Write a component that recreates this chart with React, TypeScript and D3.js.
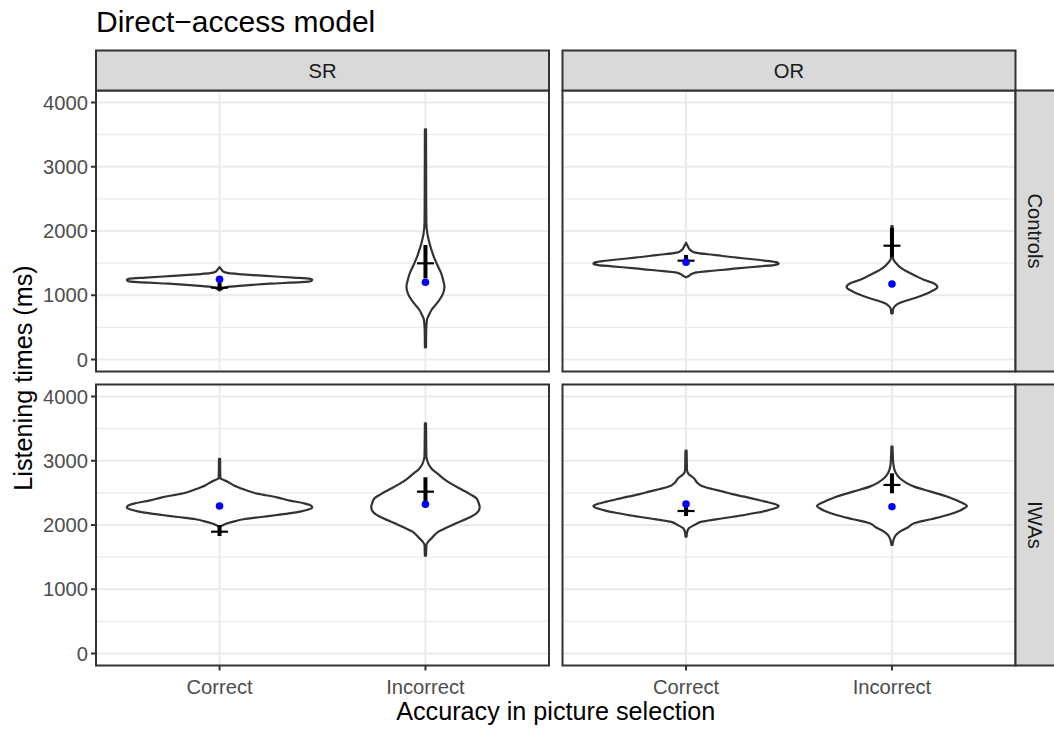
import * as d3 from "d3";

// facets
const cols = ["SR", "OR"];
const rows = ["Controls", "IWAs"];
const accuracy = ["Correct", "Incorrect"];
const yTicks = [0, 1000, 2000, 3000, 4000];
const yMinor = [500, 1500, 2500, 3500];

// violin profiles: [listening time (ms), relative width 0..1]
const srControlsCorrect: [number, number][] = [
  [1074, 0], [1100, 0.03], [1125, 0.07], [1150, 0.25], [1180, 0.55], [1204, 0.88], [1222, 0.99],
  [1240, 1], [1258, 0.97], [1275, 0.8], [1300, 0.5], [1325, 0.25], [1343, 0.1], [1370, 0.04],
  [1400, 0.02], [1437, 0],
];
const srControlsIncorrect: [number, number][] = [
  [190, 0.006], [450, 0.008], [615, 0.016], [700, 0.04], [770, 0.065], [850, 0.11], [926, 0.15],
  [1030, 0.19], [1133, 0.205], [1240, 0.19], [1341, 0.17], [1420, 0.145], [1497, 0.12], [1600, 0.09],
  [1705, 0.065], [1830, 0.04], [1964, 0.02], [2120, 0.01], [2500, 0.008], [3583, 0.006],
];
const orControlsCorrect: [number, number][] = [
  [1279, 0], [1300, 0.03], [1330, 0.06], [1351, 0.1], [1385, 0.32], [1419, 0.55], [1450, 0.8],
  [1470, 0.95], [1490, 1], [1507, 0.99], [1530, 0.9], [1560, 0.72], [1585, 0.55], [1625, 0.32],
  [1663, 0.1], [1700, 0.05], [1760, 0.02], [1818, 0],
];
const orControlsIncorrect: [number, number][] = [
  [719, 0.008], [760, 0.01], [797, 0.015], [840, 0.04], [875, 0.075], [915, 0.15], [953, 0.24],
  [1000, 0.33], [1056, 0.42], [1095, 0.47], [1124, 0.49], [1155, 0.48], [1186, 0.45], [1238, 0.35],
  [1290, 0.27], [1341, 0.2], [1395, 0.13], [1445, 0.08], [1490, 0.05], [1522, 0.03], [1560, 0.015],
  [1600, 0.01], [1800, 0.008], [2078, 0.006],
];
const srIwasCorrect: [number, number][] = [
  [1949, 0], [1974, 0.01], [2000, 0.04], [2027, 0.086], [2060, 0.17], [2089, 0.26], [2125, 0.45],
  [2156, 0.62], [2185, 0.77], [2208, 0.87], [2240, 0.96], [2270, 1], [2300, 0.99], [2338, 0.91],
  [2380, 0.76], [2431, 0.62], [2490, 0.4], [2556, 0.26], [2620, 0.15], [2675, 0.086], [2710, 0.03],
  [2727, 0.01], [2800, 0.008], [3028, 0.006],
];
const srIwasIncorrect: [number, number][] = [
  [1522, 0.006], [1600, 0.008], [1689, 0.01], [1740, 0.03], [1800, 0.07], [1896, 0.14], [1960, 0.23],
  [2027, 0.33], [2100, 0.45], [2182, 0.55], [2240, 0.58], [2286, 0.585], [2340, 0.575], [2416, 0.55],
  [2480, 0.48], [2545, 0.4], [2640, 0.28], [2727, 0.19], [2800, 0.13], [2856, 0.08], [2930, 0.04],
  [3000, 0.02], [3064, 0.01], [3300, 0.008], [3583, 0.006],
];
const orIwasCorrect: [number, number][] = [
  [1818, 0.006], [1880, 0.01], [1949, 0.03], [2000, 0.09], [2052, 0.17], [2105, 0.4], [2156, 0.63],
  [2190, 0.76], [2223, 0.87], [2260, 0.96], [2296, 1], [2330, 0.95], [2363, 0.86], [2400, 0.75],
  [2441, 0.63], [2480, 0.5], [2519, 0.4], [2560, 0.28], [2607, 0.17], [2660, 0.12], [2727, 0.086],
  [2790, 0.03], [2856, 0.01], [3000, 0.008], [3157, 0.006],
];
const orIwasIncorrect: [number, number][] = [
  [1689, 0.006], [1760, 0.015], [1845, 0.043], [1900, 0.09], [1960, 0.17], [2027, 0.24], [2090, 0.42],
  [2156, 0.6], [2223, 0.73], [2260, 0.78], [2296, 0.81], [2330, 0.78], [2363, 0.73], [2400, 0.67],
  [2441, 0.6], [2519, 0.42], [2597, 0.24], [2660, 0.15], [2727, 0.086], [2805, 0.043], [2870, 0.025],
  [2934, 0.016], [3050, 0.01], [3219, 0.006],
];

// order: Controls SR C/I, Controls OR C/I, IWAs SR C/I, IWAs OR C/I
const violins = [
  srControlsCorrect, srControlsIncorrect, orControlsCorrect, orControlsIncorrect,
  srIwasCorrect, srIwasIncorrect, orIwasCorrect, orIwasIncorrect,
];
const observedMean = [1248, 1202, 1513, 1175, 2296, 2323, 2327, 2285];
const modelMean = [1118, 1497, 1538, 1771, 1896, 2519, 2218, 2623];
const modelLow = [1080, 1264, 1518, 1600, 1829, 2363, 2140, 2494];
const modelHigh = [1200, 1782, 1627, 2050, 2000, 2743, 2285, 2805];

const W = 1054;
const H = 729;
const FONT = "'Liberation Sans', Arial, Helvetica, sans-serif";
const colLeft = [96, 562.5];
const rowTop = [90.5, 384.5];
const pw = 453;
const ph = 281;
const stripH = 40;
const stripW = 40;
const small = 20.2;
const axisTitle = 25.2;

export default function App() {
  const yScales = rowTop.map((t) => d3.scaleLinear().domain([-187, 4187]).range([t + ph, t]));
  const xScales = colLeft.map((l) => d3.scalePoint<string>().domain(accuracy).range([l, l + pw]).padding(0.6));

  const cells: any[] = [];
  rows.forEach((r, ri) =>
    cols.forEach((c, ci) =>
      accuracy.forEach((a, ai) => {
        const i = ri * 4 + ci * 2 + ai;
        cells.push({ r, c, a, ri, ci, i });
      })
    )
  );

  return (
    <svg width={W} height={H} style={{ position: "absolute", left: 0, top: 0, background: "#fff" }} fontFamily={FONT}>
      <text x={96} y={32} fontSize={30} fill="#000">Direct−access model</text>

      {rows.map((r, ri) =>
        cols.map((c, ci) => {
          const x = xScales[ci];
          const y = yScales[ri];
          const l = colLeft[ci];
          const t = rowTop[ri];
          return (
            <g key={r + c}>
              <rect x={l} y={t} width={pw} height={ph} fill="#fff" />
              {yMinor.map((v) => (
                <line key={"m" + v} x1={l} x2={l + pw} y1={y(v)} y2={y(v)} stroke="#EBEBEB" strokeWidth={1.1} />
              ))}
              {yTicks.map((v) => (
                <line key={"M" + v} x1={l} x2={l + pw} y1={y(v)} y2={y(v)} stroke="#EBEBEB" strokeWidth={2} />
              ))}
              {accuracy.map((a) => (
                <line key={a} x1={x(a)} x2={x(a)} y1={t} y2={t + ph} stroke="#EBEBEB" strokeWidth={2} />
              ))}
            </g>
          );
        })
      )}

      {cells.map((d) => {
        const x = xScales[d.ci];
        const y = yScales[d.ri];
        const cx = x(d.a)!;
        const hw = 0.45 * x.step();
        const area = d3
          .area<[number, number]>()
          .curve(d3.curveMonotoneY)
          .y((p) => y(p[0]))
          .x0((p) => cx - p[1] * hw)
          .x1((p) => cx + p[1] * hw);
        return (
          <path key={"v" + d.i} d={area(violins[d.i]) ?? ""} fill="#fff" stroke="#333333" strokeWidth={2.2} strokeLinejoin="round" />
        );
      })}

      {cells.map((d) => {
        const cx = xScales[d.ci](d.a)!;
        const y = yScales[d.ri];
        return (
          <g key={"e" + d.i}>
            <line x1={cx} x2={cx} y1={y(modelLow[d.i])} y2={y(modelHigh[d.i])} stroke="#000" strokeWidth={4} />
            <line x1={cx - 8.5} x2={cx + 8.5} y1={y(modelMean[d.i])} y2={y(modelMean[d.i])} stroke="#000" strokeWidth={2.2} />
          </g>
        );
      })}

      {cells.map((d) => (
        <circle key={"p" + d.i} cx={xScales[d.ci](d.a)!} cy={yScales[d.ri](observedMean[d.i])} r={3.8} fill="#0000FF" />
      ))}

      {/* panel borders */}
      {rows.map((r, ri) =>
        cols.map((c, ci) => (
          <rect key={"b" + r + c} x={colLeft[ci]} y={rowTop[ri]} width={pw} height={ph} fill="none" stroke="#333333" strokeWidth={2} />
        ))
      )}

      {/* top strips */}
      {cols.map((c, ci) => (
        <g key={"s" + c}>
          <rect x={colLeft[ci]} y={rowTop[0] - stripH} width={pw} height={stripH} fill="#D9D9D9" stroke="#333333" strokeWidth={2} />
          <text x={colLeft[ci] + pw / 2} y={rowTop[0] - stripH / 2} dy="0.35em" textAnchor="middle" fontSize={small} fill="#1A1A1A">{c}</text>
        </g>
      ))}
      {/* right strips */}
      {rows.map((r, ri) => {
        const sx = colLeft[1] + pw;
        const cy = rowTop[ri] + ph / 2;
        return (
          <g key={"rs" + r}>
            <rect x={sx} y={rowTop[ri]} width={stripW} height={ph} fill="#D9D9D9" stroke="#333333" strokeWidth={2} />
            <text transform={`translate(${sx + stripW / 2},${cy}) rotate(90)`} dy="0.35em" textAnchor="middle" fontSize={small} fill="#1A1A1A">{r}</text>
          </g>
        );
      })}

      {/* y axes */}
      {rows.map((r, ri) => {
        const y = yScales[ri];
        const l = colLeft[0];
        return (
          <g key={"ya" + r}>
            {yTicks.map((v) => (
              <g key={v}>
                <line x1={l - 5} x2={l} y1={y(v)} y2={y(v)} stroke="#333333" strokeWidth={2} />
                <text x={l - 8} y={y(v)} dy="0.35em" textAnchor="end" fontSize={small} fill="#4D4D4D">{v}</text>
              </g>
            ))}
          </g>
        );
      })}

      {/* x axes */}
      {cols.map((c, ci) => {
        const x = xScales[ci];
        const b = rowTop[1] + ph;
        return (
          <g key={"xa" + c}>
            {accuracy.map((a) => (
              <g key={a}>
                <line x1={x(a)} x2={x(a)} y1={b} y2={b + 5} stroke="#333333" strokeWidth={2} />
                <text x={x(a)} y={694} textAnchor="middle" fontSize={small} fill="#4D4D4D">{a}</text>
              </g>
            ))}
          </g>
        );
      })}

      <text x={(colLeft[0] + colLeft[1] + pw) / 2} y={720} textAnchor="middle" fontSize={axisTitle} fill="#000">
        Accuracy in picture selection
      </text>
      <text transform={`translate(32,${(rowTop[0] + rowTop[1] + ph) / 2}) rotate(-90)`} textAnchor="middle" fontSize={axisTitle} fill="#000">
        Listening times (ms)
      </text>
    </svg>
  );
}
